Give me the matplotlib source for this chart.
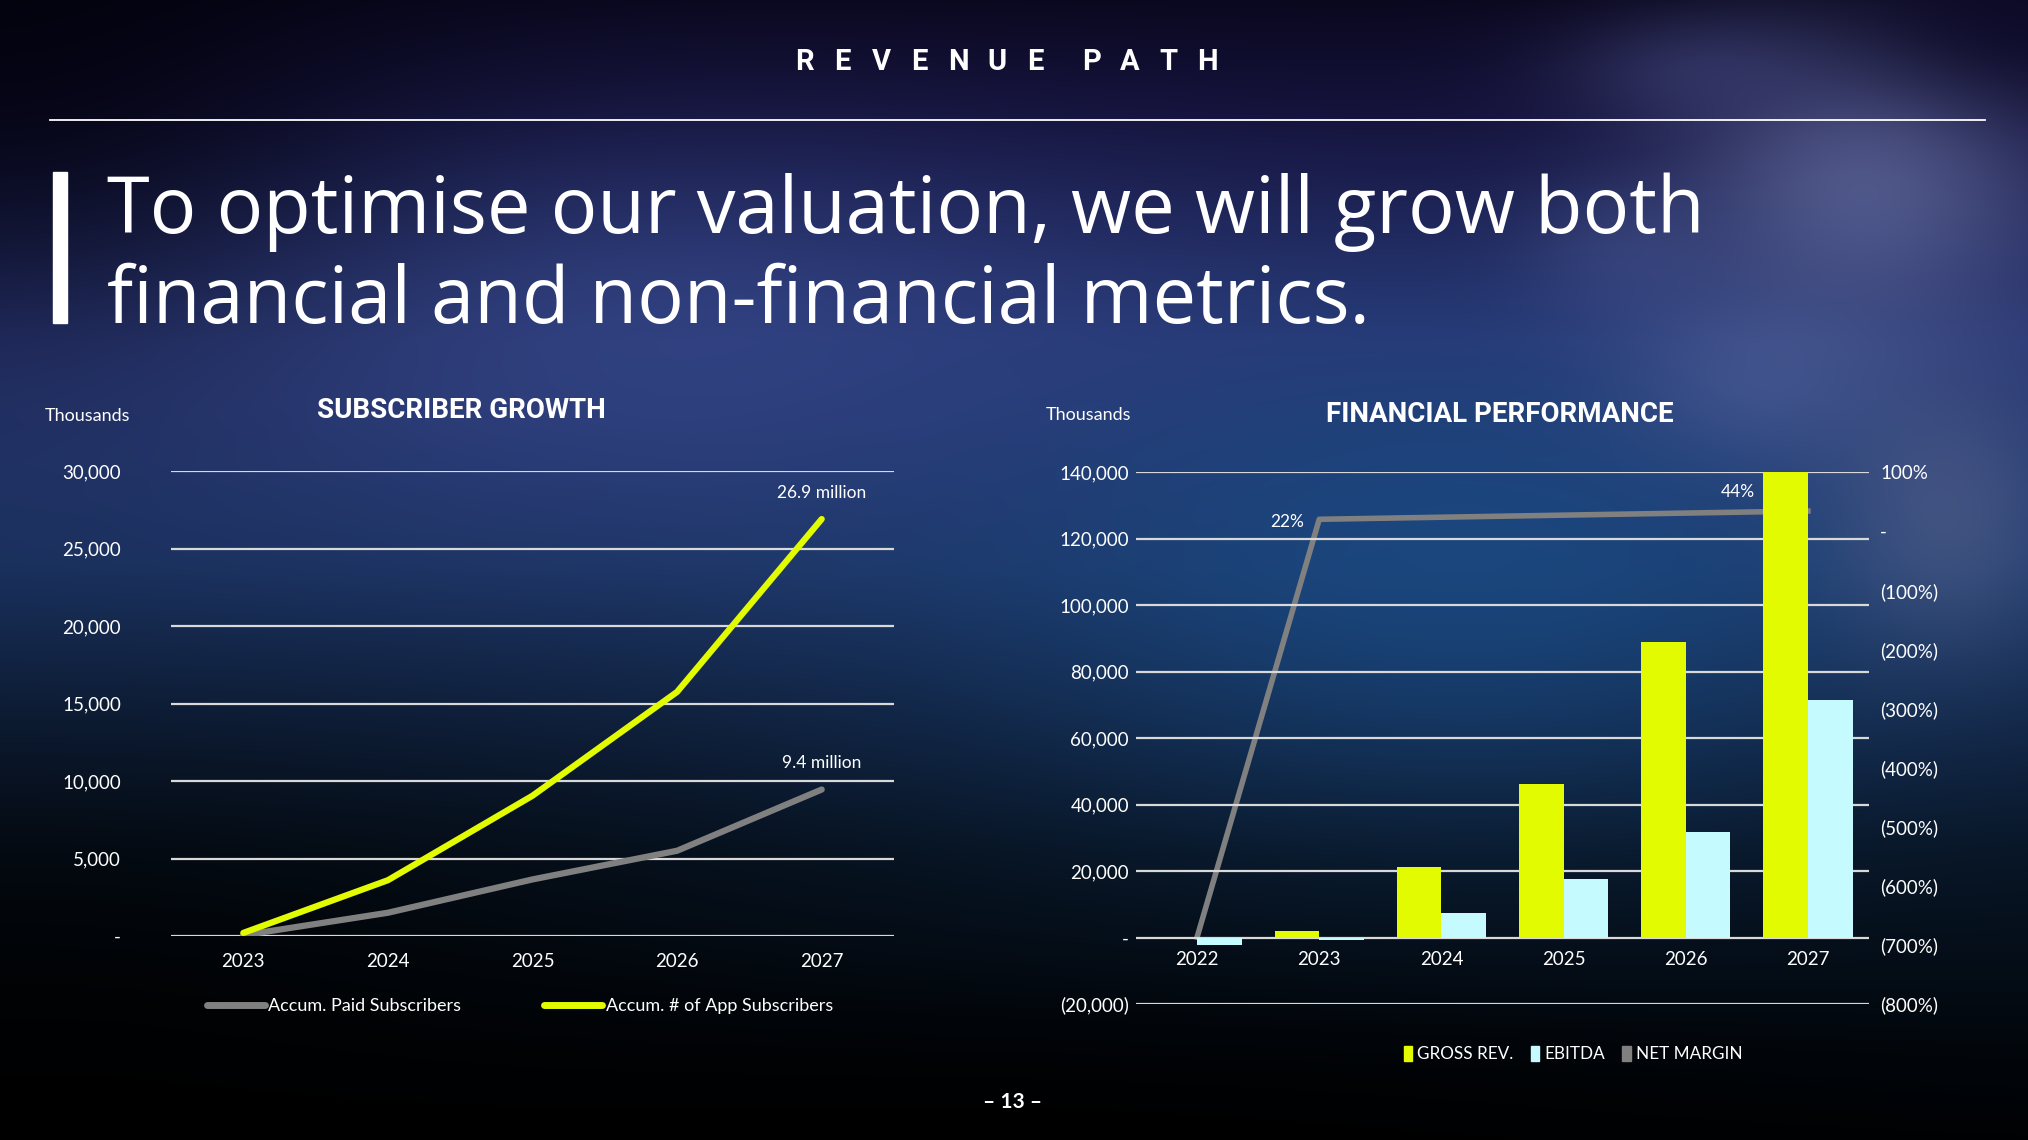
import numpy as np
import matplotlib
matplotlib.use("Agg")
import matplotlib.pyplot as plt
from matplotlib.patches import Rectangle, Patch
from matplotlib.lines import Line2D
from matplotlib.ticker import FuncFormatter, MultipleLocator

# ---- data (thousands) ----
years_sub = ["2023", "2024", "2025", "2026", "2027"]
paid_subs = [50, 1500, 3650, 5500, 9450]
app_subs = [200, 3600, 9050, 15750, 26900]
paid_label = "9.4 million"
app_label = "26.9 million"

years_fin = ["2022", "2023", "2024", "2025", "2026", "2027"]
gross_rev = [0, 2000, 21300, 46300, 89000, 140500]
ebitda = [-2150, -700, 7500, 17600, 31700, 71500]
net_margin = [-687, 20, 23.5, 27, 30.5, 34]   # percent
margin_text = ["22%", "44%"]

YELLOW = "#e2fb00"
CYAN = "#c5fbff"
GREY = "#808080"
GRID = "#d9d9d9"
W_PX, H_PX = 2028, 1140

fig = plt.figure(figsize=(W_PX / 100, H_PX / 100), dpi=100)


def fx(x):
    return x / W_PX


def fy(y):
    return 1 - y / H_PX


# ---- background ----
H, W = 570, 1014
yy, xx = np.mgrid[0:1:H * 1j, 0:1:W * 1j]
stops = [0.0, 0.10, 0.30, 0.50, 0.75, 1.0]
cols = [(0.04, 0.03, 0.12), (0.08, 0.07, 0.23), (0.16, 0.21, 0.45),
        (0.11, 0.21, 0.40), (0.03, 0.08, 0.14), (0.0, 0.01, 0.02)]
img = np.zeros((H, W, 3))
for c in range(3):
    img[..., c] = np.interp(yy, stops, [col[c] for col in cols])


def blend(img, cx, cy, sx, sy, color, a):
    w = a * np.exp(-(((xx - cx) / sx) ** 2 + ((yy - cy) / sy) ** 2))
    return img * (1 - w[..., None]) + np.array(color) * w[..., None]


img = blend(img, 0.30, 0.30, 0.25, 0.16, (0.21, 0.28, 0.54), 0.7)
img = blend(img, 0.72, 0.50, 0.22, 0.20, (0.10, 0.31, 0.54), 0.65)
img = blend(img, 0.92, 0.16, 0.09, 0.12, (0.40, 0.44, 0.64), 0.7)
img = blend(img, 0.84, 0.06, 0.07, 0.05, (0.26, 0.28, 0.50), 0.5)
img = blend(img, 0.96, 0.45, 0.06, 0.12, (0.36, 0.40, 0.56), 0.55)
img = blend(img, 0.87, 0.33, 0.07, 0.08, (0.34, 0.40, 0.62), 0.5)
img = blend(img, 0.80, 0.22, 0.05, 0.06, (0.30, 0.36, 0.60), 0.35)
img = blend(img, 1.00, 0.00, 0.08, 0.08, (0.05, 0.04, 0.16), 0.8)
img = blend(img, 0.00, 0.05, 0.20, 0.25, (0.0, 0.0, 0.03), 0.7)
img = blend(img, 0.00, 0.95, 0.35, 0.30, (0.0, 0.0, 0.0), 0.8)
img = blend(img, 0.50, 1.00, 0.50, 0.12, (0.0, 0.0, 0.0), 0.8)
bg = fig.add_axes([0, 0, 1, 1], zorder=-10)
bg.imshow(np.clip(img, 0, 1), aspect="auto", extent=[0, 1, 0, 1], interpolation="bilinear")
bg.axis("off")

# ---- header ----
header = "REVENUE PATH"
x_pos = 804
for ch in header:
    if ch == " ":
        x_pos += 18
        continue
    fig.text(fx(x_pos), fy(62), ch, color="white", fontsize=21, fontweight="bold",
             family="Roboto", ha="center", va="center")
    x_pos += 38.5
fig.add_artist(Line2D([fx(50), fx(1985)], [fy(120), fy(120)], color="white", lw=1.3,
                      transform=fig.transFigure))
fig.add_artist(Rectangle((fx(53), fy(323)), fx(14), (323 - 172) / H_PX, color="white",
                         transform=fig.transFigure))
h1 = fig.text(fx(107), fy(233), "To optimise our valuation, we will grow both",
              color="white", fontsize=60, family="Open Sans", ha="left", va="baseline")
h2 = fig.text(fx(107), fy(323), "financial and non-financial metrics.",
              color="white", fontsize=60, family="Open Sans", ha="left", va="baseline")
r = fig.canvas.get_renderer()
scale = 1597 / h1.get_window_extent(r).width
h1.set_fontsize(60 * scale)
h2.set_fontsize(60 * scale)

TITLE_FONT = "Roboto"


def thousands(v, pos):
    if abs(v) < 1e-9:
        return "-"
    if v < 0:
        return f"({abs(v):,.0f})"
    return f"{v:,.0f}"


def percent(v, pos):
    if abs(v) < 1e-9:
        return "-"
    if v < 0:
        return f"({abs(v):.0f}%)"
    return f"{v:.0f}%"


# ---- left chart: subscriber growth ----
ax1 = fig.add_axes([fx(171), fy(936), fx(894 - 171), (936 - 471) / H_PX])
ax1.patch.set_visible(False)
x1 = np.arange(len(years_sub))
ax1.plot(x1, paid_subs, color=GREY, lw=4.5, solid_capstyle="round", zorder=3)
ax1.plot(x1, app_subs, color=YELLOW, lw=4.5, solid_capstyle="round", zorder=4)
ax1.set_xlim(-0.5, len(years_sub) - 0.5)
ax1.set_ylim(0, 30000)
ax1.yaxis.set_major_locator(MultipleLocator(5000))
ax1.yaxis.set_major_formatter(FuncFormatter(thousands))
ax1.set_xticks(x1, years_sub)
ax1.grid(axis="y", color=GRID, lw=1.6)
ax1.set_axisbelow(True)
for s in ax1.spines.values():
    s.set_visible(False)
ax1.tick_params(axis="both", length=0, colors="white", labelsize=13.5)
ax1.tick_params(axis="y", pad=36)
ax1.tick_params(axis="x", pad=12)
for lab in ax1.get_xticklabels() + ax1.get_yticklabels():
    lab.set_family("Lato")
ax1.annotate(app_label, (x1[-1], app_subs[-1]), xytext=(0, 19), textcoords="offset points",
             ha="center", va="center", color="white", fontsize=12.5, family="Lato")
ax1.annotate(paid_label, (x1[-1], paid_subs[-1]), xytext=(0, 19), textcoords="offset points",
             ha="center", va="center", color="white", fontsize=12.5, family="Lato")
fig.text(fx(45), fy(416), "Thousands", color="white", fontsize=13, family="Lato",
         ha="left", va="center")
fig.text(fx(461), fy(411), "SUBSCRIBER GROWTH", color="white", fontsize=20,
         fontweight="bold", family=TITLE_FONT, ha="center", va="center")
leg1 = fig.legend(handles=[Line2D([], [], color=GREY, lw=5, solid_capstyle="round"),
                           Line2D([], [], color=YELLOW, lw=5, solid_capstyle="round")],
                  labels=["Accum. Paid Subscribers", "Accum. # of App Subscribers"],
                  loc="center", bbox_to_anchor=(fx(520), fy(1006)), ncol=2, frameon=False,
                  handlelength=3.2, handletextpad=0.2, columnspacing=4.6,
                  prop=dict(family="Lato", size=13))
for t in leg1.get_texts():
    t.set_color("white")

# ---- right chart: financial performance ----
ax2 = fig.add_axes([fx(1136), fy(1004), fx(1869 - 1136), (1004 - 472) / H_PX])
ax2.patch.set_visible(False)
ax3 = ax2.twinx()
ax3.set_zorder(ax2.get_zorder() - 1)
x2 = np.arange(len(years_fin))
bw = 0.366
ax2.bar(x2 - bw / 2, gross_rev, bw, color=YELLOW, zorder=3)
ax2.bar(x2 + bw / 2, ebitda, bw, color=CYAN, zorder=3)
ax3.set_ylim(-800, 100)
ax3.yaxis.set_major_locator(MultipleLocator(100))
ax3.yaxis.set_major_formatter(FuncFormatter(percent))
ax3.plot(x2, net_margin, color=GREY, lw=4, zorder=2)
ax3.annotate(margin_text[0], (x2[1], net_margin[1]),
             xytext=(-11, -2), textcoords="offset points", ha="right", va="center",
             color="white", fontsize=12.5, family="Lato")
ax3.annotate(margin_text[1], (x2[-1], net_margin[-1]),
             xytext=(-38, 14), textcoords="offset points", ha="right", va="center",
             color="white", fontsize=12.5, family="Lato")
ax2.set_xlim(-0.5, len(years_fin) - 0.5)
ax2.set_ylim(-20000, 140000)
ax2.yaxis.set_major_locator(MultipleLocator(20000))
ax2.yaxis.set_major_formatter(FuncFormatter(thousands))
ax2.set_xticks(x2, years_fin)
ax2.spines["bottom"].set_position(("data", 0))
ax2.grid(axis="y", color=GRID, lw=1.6)
ax2.set_axisbelow(True)
for a in (ax2, ax3):
    for s in a.spines.values():
        s.set_visible(False)
    a.tick_params(axis="both", length=0, colors="white", labelsize=13.5)
ax2.tick_params(axis="y", pad=5)
ax2.tick_params(axis="x", pad=10)
ax3.tick_params(axis="y", pad=8)
for lab in ax2.get_xticklabels() + ax2.get_yticklabels() + ax3.get_yticklabels():
    lab.set_family("Lato")
fig.text(fx(1046), fy(415), "Thousands", color="white", fontsize=13, family="Lato",
         ha="left", va="center")
fig.text(fx(1500), fy(415), "FINANCIAL PERFORMANCE", color="white", fontsize=20,
         fontweight="bold", family=TITLE_FONT, ha="center", va="center")
leg2 = fig.legend(handles=[Patch(color=YELLOW), Patch(color=CYAN), Patch(color=GREY)],
                  labels=["GROSS REV.", "EBITDA", "NET MARGIN"],
                  loc="center", bbox_to_anchor=(fx(1573), fy(1054)), ncol=3, frameon=False,
                  handlelength=0.5, handleheight=0.95, handletextpad=0.3, columnspacing=1.0,
                  prop=dict(family="Lato", size=12.3))
for t in leg2.get_texts():
    t.set_color("white")

# ---- footer ----
fig.text(fx(1013), fy(1102), "– 13 –", color="white", fontsize=15, fontweight="bold",
         family="Lato", ha="center", va="center")

fig.savefig("out.png", dpi=100)
